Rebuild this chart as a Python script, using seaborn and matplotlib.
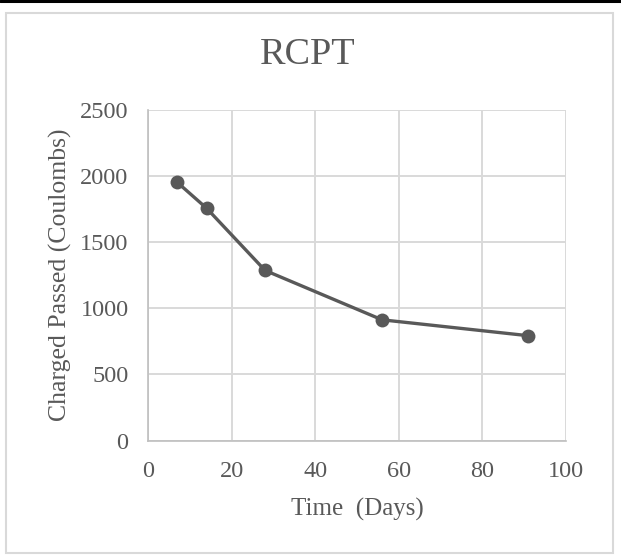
import matplotlib
matplotlib.use("Agg")
import matplotlib.pyplot as plt
import pandas as pd
import seaborn as sns
from matplotlib.lines import Line2D
from matplotlib.patches import Rectangle

# RCPT results
days = [7, 14, 28, 56, 91]
charge = [1950, 1755, 1285, 912, 792]

x_ticks = [0, 20, 40, 60, 80, 100]
y_ticks = [0, 500, 1000, 1500, 2000, 2500]

TEXT = "#595959"
GRID = "#d9d9d9"

sns.set_style("white")
plt.rcParams["font.family"] = ["Liberation Serif", "DejaVu Serif"]

df = pd.DataFrame({"Days": days, "Charge": charge})

fig = plt.figure(figsize=(6.21, 5.6), dpi=100)
ax = fig.add_axes([148 / 621, 1 - 440.6 / 560, (566 - 148) / 621, (440.6 - 109.5) / 560])

sns.lineplot(data=df, x="Days", y="Charge", ax=ax, color=TEXT, linewidth=2.4,
             marker="o", markersize=10, markeredgewidth=0, zorder=3)

ax.set_xlim(0, 100)
ax.set_ylim(0, 2500)
ax.set_xticks(x_ticks)
ax.set_yticks(y_ticks)
ax.grid(True, color=GRID, linewidth=1.4)
ax.tick_params(axis="both", length=0, labelsize=17.5, colors=TEXT)
ax.tick_params(axis="x", pad=15)
ax.tick_params(axis="y", pad=14)
for side in ["top", "right"]:
    ax.spines[side].set_visible(False)
for side in ["left", "bottom"]:
    ax.spines[side].set_color("#bfbfbf")
    ax.spines[side].set_linewidth(1.2)

ax.set_xlabel("Time  (Days)", fontsize=18, color=TEXT, labelpad=11)
ax.set_ylabel("Charged Passed (Coulombs)", fontsize=18.5, color=TEXT, labelpad=6)
fig.text(307.5 / 621, 1 - 55 / 560, "RCPT", ha="center", va="center", fontsize=27.5, color=TEXT)

# chart frame and top rule
fig.patches.append(Rectangle((6 / 621, 1 - 553 / 560), (613 - 6) / 621, (553 - 13) / 560,
                             transform=fig.transFigure, fill=False, edgecolor=GRID, linewidth=1.5))
fig.lines.append(Line2D([0, 1], [1 - 1.3 / 560, 1 - 1.3 / 560], transform=fig.transFigure,
                        color="black", linewidth=2.2))

fig.savefig("out.png", dpi=100)
